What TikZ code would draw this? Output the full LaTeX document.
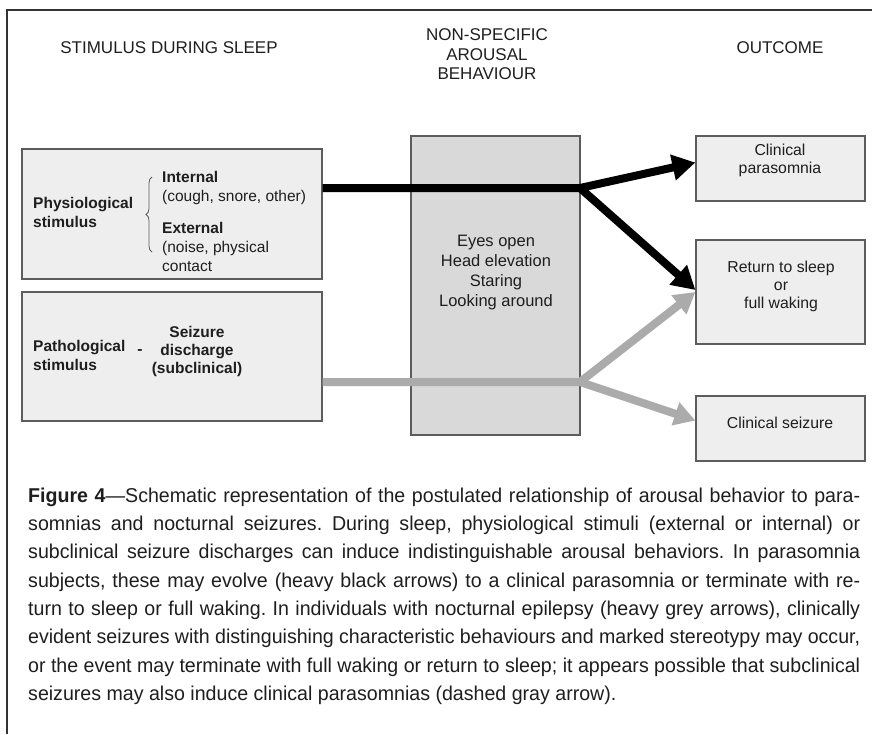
\documentclass[tikz,border=0pt]{standalone}
\usepackage{fontspec}
\setmainfont{Liberation Sans}
\newfontfamily\captionfont[FakeStretch=0.98]{Liberation Sans}
\usetikzlibrary{arrows.meta,decorations.pathreplacing}

\definecolor{boxline}{HTML}{5C5C5C}
\definecolor{boxfill}{HTML}{EEEEEE}
\definecolor{midfill}{HTML}{D9D9D9}
\definecolor{greyline}{HTML}{ABABAB}
\definecolor{inktext}{HTML}{1E1E1E}

\tikzset{
  sidebox/.style={draw=boxline, fill=boxfill, line width=1.2pt, inner sep=0pt},
  midbox/.style={sidebox, fill=midfill},
  headtext/.style={font=\fontsize{17}{19.5}\selectfont, text=inktext, align=center, inner sep=0pt},
  boxtext/.style={font=\fontsize{15.5}{19}\selectfont, text=inktext, align=left, inner sep=0pt},
  outtext/.style={font=\fontsize{15.8}{18}\selectfont, text=inktext, align=center, inner sep=0pt},
  captext/.style={font=\captionfont\fontsize{20}{28.3}\selectfont\frenchspacing, text=inktext, align=left, inner sep=0pt},
  blackarrow/.style={line width=8pt, black, -{Triangle[length=23pt, width=25pt]}},
  greyarrow/.style={line width=8pt, greyline, -{Triangle[length=21pt, width=23pt]}}
}

\begin{document}
\begin{tikzpicture}[x=1pt, y=-1pt]

\useasboundingbox ( 0, 0 ) rectangle ( 872, 734 );

% Frame
\draw [line width=2.5pt, black!80] ( 7, 734 ) -- ( 7, 10 ) -- ( 872, 10 );

% Headings
\node [headtext] (stimhead) at ( 169, 48 ) {STIMULUS DURING SLEEP};
\node [headtext] (arohead) at ( 487, 54.5 ) {NON-SPECIFIC\\AROUSAL\\BEHAVIOUR};
\node [headtext] (outhead) at ( 780, 48 ) {OUTCOME};

% Stimulus boxes
\node [sidebox, minimum width=300pt, minimum height=130pt] (physio) at ( 172, 214 ) {};
\node [sidebox, minimum width=300pt, minimum height=129pt] (patho) at ( 172, 356.5 ) {};

\node [boxtext, font=\fontsize{15.5}{19}\selectfont\bfseries, anchor=west] (physiotxt) at ( 33, 212 ) {Physiological\\stimulus};
\draw [boxline, line width=0.8pt, decorate, decoration={brace, amplitude=6pt}] ( 152, 252 ) -- ( 152, 177 );
\node [boxtext, anchor=west] (internal) at ( 162, 187.5 ) {\textbf{Internal}\\(cough, snore, other)};
\node [boxtext, anchor=west] (external) at ( 162, 246.5 ) {\textbf{External}\\(noise, physical\\contact};

\node [boxtext, font=\fontsize{15.5}{19}\selectfont\bfseries, anchor=west] (pathotxt) at ( 33, 355 ) {Pathological\\stimulus};
\node [boxtext, font=\fontsize{15.5}{19}\selectfont\bfseries] (dash) at ( 140, 352 ) {-};
\node [boxtext, font=\fontsize{15.5}{18}\selectfont\bfseries, align=center] (seizdis) at ( 197, 351 ) {Seizure\\discharge\\(subclinical)};

% Arousal box
\node [midbox, minimum width=169pt, minimum height=299pt] (arousal) at ( 495.5, 285.5 ) {};
\node [outtext, font=\fontsize{16.5}{20}\selectfont] (arousaltxt) at ( 496, 273 ) {Eyes open\\Head elevation\\Staring\\Looking around};

% Outcome boxes
\node [sidebox, minimum width=169pt, minimum height=65pt] (clin) at ( 780.5, 168.5 ) {};
\node [sidebox, minimum width=169pt, minimum height=104pt] (ret) at ( 780.5, 292 ) {};
\node [sidebox, minimum width=169pt, minimum height=65pt] (seiz) at ( 780.5, 428.5 ) {};

\node [outtext] (clintxt) at ( 780, 160 ) {Clinical\\parasomnia};
\node [outtext] (rettxt) at ( 781, 286 ) {Return to sleep\\or\\full waking};
\node [outtext] (seiztxt) at ( 780, 423 ) {Clinical seizure};

% Arrows
\coordinate (bk) at ( 580, 188 );
\coordinate (gy) at ( 580, 382 );

\draw [greyarrow] (patho.east |- gy) -- (gy) -- (ret.west);
\draw [greyarrow] (gy) -- ([yshift=8pt]seiz.west);
\draw [blackarrow] (physio.east |- bk) -- (bk) -- ([yshift=6pt]clin.west);
\draw [blackarrow] (bk) -- ([yshift=2pt]ret.west);

% Caption
\node [captext, anchor=north west] (caption) at ( 28, 487.5 ) {%
\makebox[832pt][s]{\textbf{Figure 4}—Schematic representation of the postulated relationship of arousal behavior to para-}\\
\makebox[832pt][s]{somnias and nocturnal seizures. During sleep, physiological stimuli (external or internal) or}\\
\makebox[832pt][s]{subclinical seizure discharges can induce indistinguishable arousal behaviors. In parasomnia}\\
\makebox[832pt][s]{subjects, these may evolve (heavy black arrows) to a clinical parasomnia or terminate with re-}\\
\makebox[832pt][s]{turn to sleep or full waking. In individuals with nocturnal epilepsy (heavy grey arrows), clinically}\\
\makebox[832pt][s]{evident seizures with distinguishing characteristic behaviours and marked stereotypy may occur,}\\
\makebox[832pt][s]{or the event may terminate with full waking or return to sleep; it appears possible that subclinical}\\
seizures may also induce clinical parasomnias (dashed gray arrow).};

\end{tikzpicture}
\end{document}
